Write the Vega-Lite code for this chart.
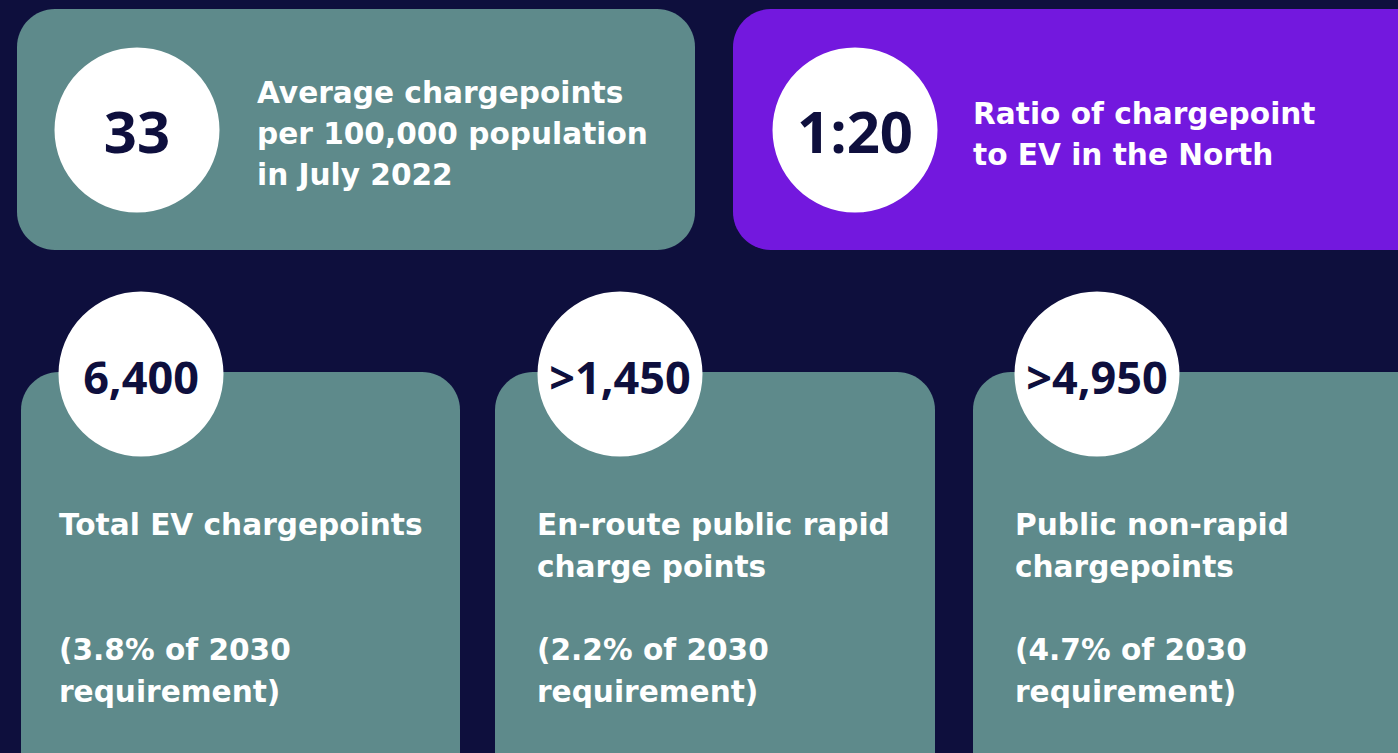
{
  "$schema": "https://vega.github.io/schema/vega-lite/v6.json",
  "width": 1398,
  "height": 753,
  "autosize": "none",
  "padding": 0,
  "background": "#0e0f3d",
  "config": {"view": {"stroke": null}},
  "datasets": {
    "cards": [
      {"card": "Average chargepoints", "theme": "teal", "x0": 17, "x1": 695, "y0": 9, "y1": 250},
      {"card": "Ratio", "theme": "purple", "x0": 733, "x1": 1440, "y0": 9, "y1": 250},
      {"card": "Total EV chargepoints", "theme": "teal", "x0": 21, "x1": 460, "y0": 372, "y1": 790},
      {"card": "En-route public rapid", "theme": "teal", "x0": 495, "x1": 935, "y0": 372, "y1": 790},
      {"card": "Public non-rapid", "theme": "teal", "x0": 973, "x1": 1440, "y0": 372, "y1": 790}
    ],
    "badges": [
      {"value": "33", "cx": 137, "cy": 130, "size": "large"},
      {"value": "1:20", "cx": 855, "cy": 130, "size": "large"},
      {"value": "6,400", "cx": 141, "cy": 374, "size": "small"},
      {"value": ">1,450", "cx": 620, "cy": 374, "size": "small"},
      {"value": ">4,950", "cx": 1097, "cy": 374, "size": "small"}
    ],
    "lines": [
      {"text": "Average chargepoints", "x": 257, "y": 103},
      {"text": "per 100,000 population", "x": 257, "y": 144},
      {"text": "in July 2022", "x": 257, "y": 185},
      {"text": "Ratio of chargepoint", "x": 973, "y": 124},
      {"text": "to EV in the North", "x": 973, "y": 165},
      {"text": "Total EV chargepoints", "x": 59, "y": 535},
      {"text": "(3.8% of 2030", "x": 59, "y": 660},
      {"text": "requirement)", "x": 59, "y": 702},
      {"text": "En-route public rapid", "x": 537, "y": 535},
      {"text": "charge points", "x": 537, "y": 577},
      {"text": "(2.2% of 2030", "x": 537, "y": 660},
      {"text": "requirement)", "x": 537, "y": 702},
      {"text": "Public non-rapid", "x": 1015, "y": 535},
      {"text": "chargepoints", "x": 1015, "y": 577},
      {"text": "(4.7% of 2030", "x": 1015, "y": 660},
      {"text": "requirement)", "x": 1015, "y": 702}
    ]
  },
  "layer": [
    {
      "data": {"name": "cards"},
      "mark": {"type": "rect", "cornerRadius": 38, "clip": true},
      "encoding": {
        "x": {"field": "x0", "type": "quantitative", "scale": {"domain": [0, 1398], "nice": false, "zero": false}, "axis": null},
        "x2": {"field": "x1"},
        "y": {"field": "y0", "type": "quantitative", "scale": {"domain": [0, 753], "nice": false, "zero": false, "reverse": true}, "axis": null},
        "y2": {"field": "y1"},
        "color": {"field": "theme", "type": "nominal", "scale": {"domain": ["teal", "purple"], "range": ["#5e8a8b", "#7318de"]}, "legend": null}
      }
    },
    {
      "data": {"name": "badges"},
      "mark": {"type": "point", "shape": "circle", "filled": true, "opacity": 1, "color": "#ffffff", "size": 27225},
      "encoding": {
        "x": {"field": "cx", "type": "quantitative"},
        "y": {"field": "cy", "type": "quantitative"}
      }
    },
    {
      "data": {"name": "badges"},
      "transform": [{"filter": "datum.size === 'large'"}],
      "mark": {"type": "text", "font": "Open Sans", "fontWeight": "bold", "fontSize": 58, "color": "#0e0f3d", "align": "center", "baseline": "middle", "dy": 6},
      "encoding": {
        "x": {"field": "cx", "type": "quantitative"},
        "y": {"field": "cy", "type": "quantitative"},
        "text": {"field": "value", "type": "nominal"}
      }
    },
    {
      "data": {"name": "badges"},
      "transform": [{"filter": "datum.size === 'small'"}],
      "mark": {"type": "text", "font": "Open Sans", "fontWeight": "bold", "fontSize": 45, "color": "#0e0f3d", "align": "center", "baseline": "middle", "dy": 6},
      "encoding": {
        "x": {"field": "cx", "type": "quantitative"},
        "y": {"field": "cy", "type": "quantitative"},
        "text": {"field": "value", "type": "nominal"}
      }
    },
    {
      "data": {"name": "lines"},
      "mark": {"type": "text", "font": "DejaVu Sans", "fontWeight": "bold", "fontSize": 29.6, "color": "#ffffff", "align": "left", "baseline": "alphabetic"},
      "encoding": {
        "x": {"field": "x", "type": "quantitative"},
        "y": {"field": "y", "type": "quantitative"},
        "text": {"field": "text", "type": "nominal"}
      }
    }
  ]
}
